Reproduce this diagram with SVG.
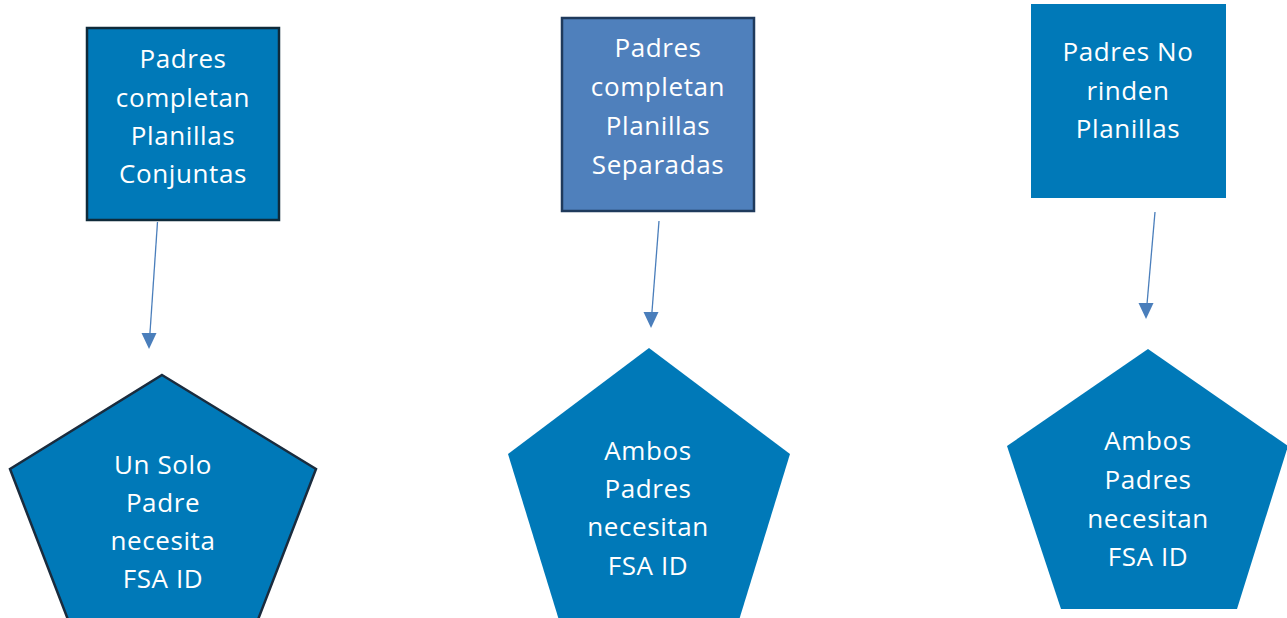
<svg xmlns="http://www.w3.org/2000/svg" width="1287" height="618" viewBox="0 0 1287 618">
<defs>
<style>
.t{font-family:"Open Sans","Liberation Sans",sans-serif;font-size:26px;letter-spacing:0.6px;fill:#ffffff;text-anchor:middle;dominant-baseline:central}
.c{stroke:#4a7ebb;stroke-width:1.3;fill:none}
.h{fill:#4a7ebb}
</style>
</defs>
<rect width="1287" height="618" fill="#ffffff"/>
<g id="connectors">
<line class="c" x1="157.5" y1="222" x2="149.5" y2="340"/>
<path class="h" d="M149,349 L141.5,333 L156.5,333 z"/>
<line class="c" x1="659" y1="221" x2="651.5" y2="318"/>
<path class="h" d="M651,328 L643.5,312 L658.5,312 z"/>
<line class="c" x1="1155" y1="212" x2="1146.5" y2="310"/>
<path class="h" d="M1146,319 L1138.5,303 L1153.5,303 z"/>
</g>
<g id="box1">
<rect x="87" y="28" width="192" height="192" fill="#0079b8" stroke="#0f2a3a" stroke-width="2.5"/>
<text class="t" x="183" y="58">Padres</text>
<text class="t" x="183" y="97">completan</text>
<text class="t" x="183" y="135">Planillas</text>
<text class="t" x="183" y="173">Conjuntas</text>
</g>
<g id="box2">
<rect x="562" y="18" width="192" height="193" fill="#4f80bc" stroke="#1f3a5c" stroke-width="2.5"/>
<text class="t" x="658" y="47">Padres</text>
<text class="t" x="658" y="86">completan</text>
<text class="t" x="658" y="125">Planillas</text>
<text class="t" x="658" y="164">Separadas</text>
</g>
<g id="box3">
<rect x="1031" y="4" width="195" height="194" fill="#0079b8"/>
<text class="t" x="1128" y="51">Padres No</text>
<text class="t" x="1128" y="90">rinden</text>
<text class="t" x="1128" y="128">Planillas</text>
</g>
<g id="pent1">
<polygon points="162,375 316,469 254,630 72,630 10,469" fill="#0079b8" stroke="#1a2c3e" stroke-width="2.5"/>
<text class="t" x="163" y="464">Un Solo</text>
<text class="t" x="163" y="502">Padre</text>
<text class="t" x="163" y="540">necesita</text>
<text class="t" x="163" y="578">FSA ID</text>
</g>
<g id="pent2">
<polygon points="649,348 790,454 736,630 562,630 508,454" fill="#0079b8"/>
<text class="t" x="648" y="450">Ambos</text>
<text class="t" x="648" y="488">Padres</text>
<text class="t" x="648" y="526">necesitan</text>
<text class="t" x="648" y="565">FSA ID</text>
</g>
<g id="pent3">
<polygon points="1148,349 1288,446 1237,609 1061,609 1007,446" fill="#0079b8"/>
<text class="t" x="1148" y="440">Ambos</text>
<text class="t" x="1148" y="479">Padres</text>
<text class="t" x="1148" y="518">necesitan</text>
<text class="t" x="1148" y="556">FSA ID</text>
</g>
</svg>
